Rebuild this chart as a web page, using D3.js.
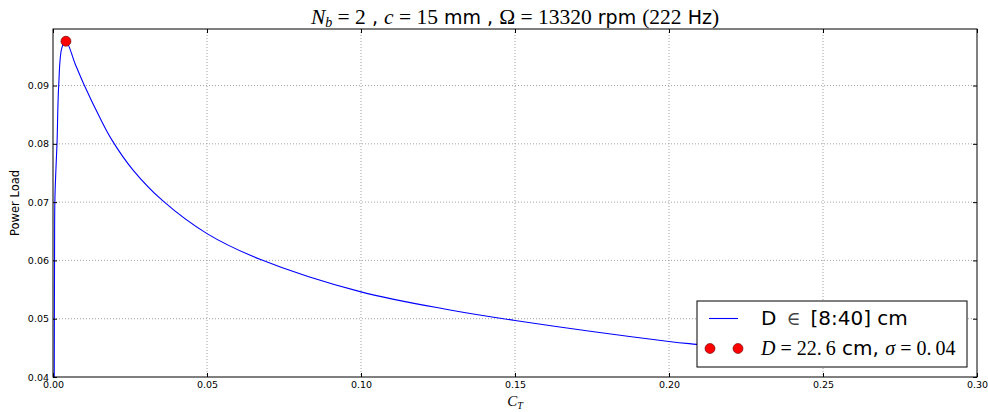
<!DOCTYPE html>
<html>
<head>
<meta charset="utf-8">
<script src="https://cdn.jsdelivr.net/npm/d3@7"></script>
<style>
  body { margin: 0; background: #fff; }
  text { fill: #000; }
</style>
</head>
<body>
<svg width="988" height="412"></svg>
<script>
// values: C_T against power load
const ctValues   = [0.0004, 0.0005, 0.0006, 0.0009, 0.0013, 0.00185, 0.0029, 0.0042,
                    0.0072, 0.0102, 0.0152, 0.0192, 0.0260, 0.0357, 0.0500, 0.0672,
                    0.1000, 0.1289, 0.1500, 0.2000, 0.2089, 0.2350];
const loadValues = [0.0400, 0.0600, 0.0700, 0.0750, 0.0800, 0.0900, 0.0965, 0.0976,
                    0.0937, 0.0900, 0.0845, 0.0806, 0.0755, 0.0702, 0.0646, 0.0602,
                    0.0546, 0.0515, 0.0497, 0.0461, 0.0456, 0.0443];
const optimum = {ct: 0.0042, load: 0.0976};

const xTicks = [0, 0.05, 0.10, 0.15, 0.20, 0.25, 0.30];
const yTicks = [0.04, 0.05, 0.06, 0.07, 0.08, 0.09];
const xDomain = [0, 0.30];
const yDomain = [0.04, 0.0997];

const data = ctValues.map((c, i) => ({ct: c, load: loadValues[i]}));

const svg = d3.select('svg'),
      margin = {top: 29, right: 11, bottom: 35, left: 53},
      width = +svg.attr('width') - margin.left - margin.right,
      height = +svg.attr('height') - margin.top - margin.bottom,
      g = svg.append('g').attr('transform', 'translate(' + margin.left + ',' + margin.top + ')');

const x = d3.scaleLinear().domain(xDomain).range([0, width]);
const y = d3.scaleLinear().domain(yDomain).range([height, 0]);

const tickFont = '"DejaVu Sans", sans-serif';

// grid
g.append('g').selectAll('line').data(xTicks.slice(1, -1)).enter().append('line')
    .attr('x1', d => x(d)).attr('x2', d => x(d))
    .attr('y1', 0).attr('y2', height)
    .attr('stroke', '#8c8c8c').attr('stroke-width', 0.8).attr('stroke-dasharray', '1,2');
g.append('g').selectAll('line').data(yTicks.slice(1)).enter().append('line')
    .attr('y1', d => y(d)).attr('y2', d => y(d))
    .attr('x1', 0).attr('x2', width)
    .attr('stroke', '#8c8c8c').attr('stroke-width', 0.8).attr('stroke-dasharray', '1,2');

// curve
g.append('clipPath').attr('id', 'clip')
  .append('rect').attr('width', width).attr('height', height);

const line = d3.line()
    .x(d => x(d.ct))
    .y(d => y(d.load))
    .curve(d3.curveCatmullRom.alpha(0.5));

g.append('path')
    .datum(data)
    .attr('clip-path', 'url(#clip)')
    .attr('fill', 'none')
    .attr('stroke', '#0000ff')
    .attr('stroke-width', 1.1)
    .attr('d', line);

g.append('circle')
    .attr('cx', x(optimum.ct)).attr('cy', y(optimum.load))
    .attr('r', 5)
    .attr('fill', '#ff0000').attr('stroke', '#600000').attr('stroke-width', 0.6);

// axes, ticks pointing inward on all four sides
const styleAxis = (sel) => {
  sel.select('.domain').remove();
  sel.selectAll('.tick line').attr('stroke', '#000');
  sel.selectAll('text').style('font-family', tickFont).style('font-size', '9.5px').attr('fill', '#000');
};

g.append('g')
    .attr('transform', 'translate(0,' + height + ')')
    .call(d3.axisBottom(x).tickValues(xTicks).tickSize(-4).tickPadding(4).tickFormat(d3.format('.2f')))
    .call(styleAxis);
g.append('g')
    .call(d3.axisLeft(y).tickValues(yTicks).tickSize(-4).tickPadding(4).tickFormat(d3.format('.2f')))
    .call(styleAxis);
g.append('g')
    .call(d3.axisTop(x).tickValues(xTicks).tickSize(-4).tickFormat(''))
    .call(styleAxis);
g.append('g')
    .attr('transform', 'translate(' + width + ',0)')
    .call(d3.axisRight(y).tickValues(yTicks).tickSize(-4).tickFormat(''))
    .call(styleAxis);

g.append('rect')
    .attr('width', width).attr('height', height)
    .attr('fill', 'none').attr('stroke', '#000').attr('stroke-width', 1);

// mixed math / text label helper
const serif = '"Liberation Serif", "DejaVu Serif", serif';
const sans = '"DejaVu Sans", sans-serif';
const addRuns = (text, runs) => {
  runs.forEach(r => {
    const t = text.append('tspan')
        .style('font-family', r.f === 's' ? sans : serif)
        .style('font-style', r.i ? 'italic' : 'normal')
        .text(r.t);
    if (r.size) t.style('font-size', r.size);
    if (r.dy) t.attr('dy', r.dy);
    if (r.c) t.attr('fill', r.c);
  });
};

// title
const title = svg.append('text')
    .attr('x', margin.left + width / 2)
    .attr('y', 24)
    .attr('text-anchor', 'middle')
    .style('font-size', '21.5px');
addRuns(title, [
  {t: 'N', i: true},
  {t: 'b', i: true, size: '14px', dy: 3},
  {t: '\u2005=\u20052', dy: -3},
  {t: ' , ', f: 's', size: '19px'},
  {t: 'c', i: true},
  {t: '\u2005=\u200515'},
  {t: ' mm , ', f: 's', size: '19px'},
  {t: '\u03a9\u2005=\u200513320'},
  {t: ' rpm ', f: 's', size: '19px'},
  {t: '(222'},
  {t: ' Hz', f: 's', size: '19px'},
  {t: ')'}
]);

// axis labels
const xLabel = svg.append('text')
    .attr('x', margin.left + width / 2)
    .attr('y', 406)
    .attr('text-anchor', 'middle')
    .style('font-size', '15px');
addRuns(xLabel, [
  {t: 'C', i: true},
  {t: 'T', i: true, size: '10px', dy: 3}
]);

svg.append('text')
    .attr('transform', 'translate(19,' + (margin.top + height / 2) + ') rotate(-90)')
    .attr('text-anchor', 'middle')
    .style('font-family', sans)
    .style('font-size', '11.5px')
    .text('Power Load');

// legend
const legend = svg.append('g').attr('transform', 'translate(697,301)');
legend.append('rect')
    .attr('width', 270).attr('height', 66)
    .attr('fill', '#fff').attr('stroke', '#000').attr('stroke-width', 1);
legend.append('line')
    .attr('x1', 12).attr('x2', 41).attr('y1', 17.5).attr('y2', 17.5)
    .attr('stroke', '#0000ff').attr('stroke-width', 1.1);
legend.selectAll('circle.m').data([13, 41]).enter().append('circle')
    .attr('cx', d => d).attr('cy', 47.5).attr('r', 5)
    .attr('fill', '#ff0000').attr('stroke', '#600000').attr('stroke-width', 0.6);

const l1 = legend.append('text').attr('x', 64).attr('y', 24).style('font-size', '20px');
addRuns(l1, [
  {t: 'D\u2002', f: 's'},
  {t: '\u2208', size: '19px', c: '#444'},
  {t: '\u2002[8:40] cm', f: 's'}
]);
const l2 = legend.append('text').attr('x', 64).attr('y', 54).style('font-size', '20px');
addRuns(l2, [
  {t: 'D', i: true},
  {t: '\u2005=\u200522.\u20096'},
  {t: ' cm, ', f: 's'},
  {t: '\u03c3', i: true},
  {t: '\u2005=\u20050.\u200904'}
]);
</script>
</body>
</html>
